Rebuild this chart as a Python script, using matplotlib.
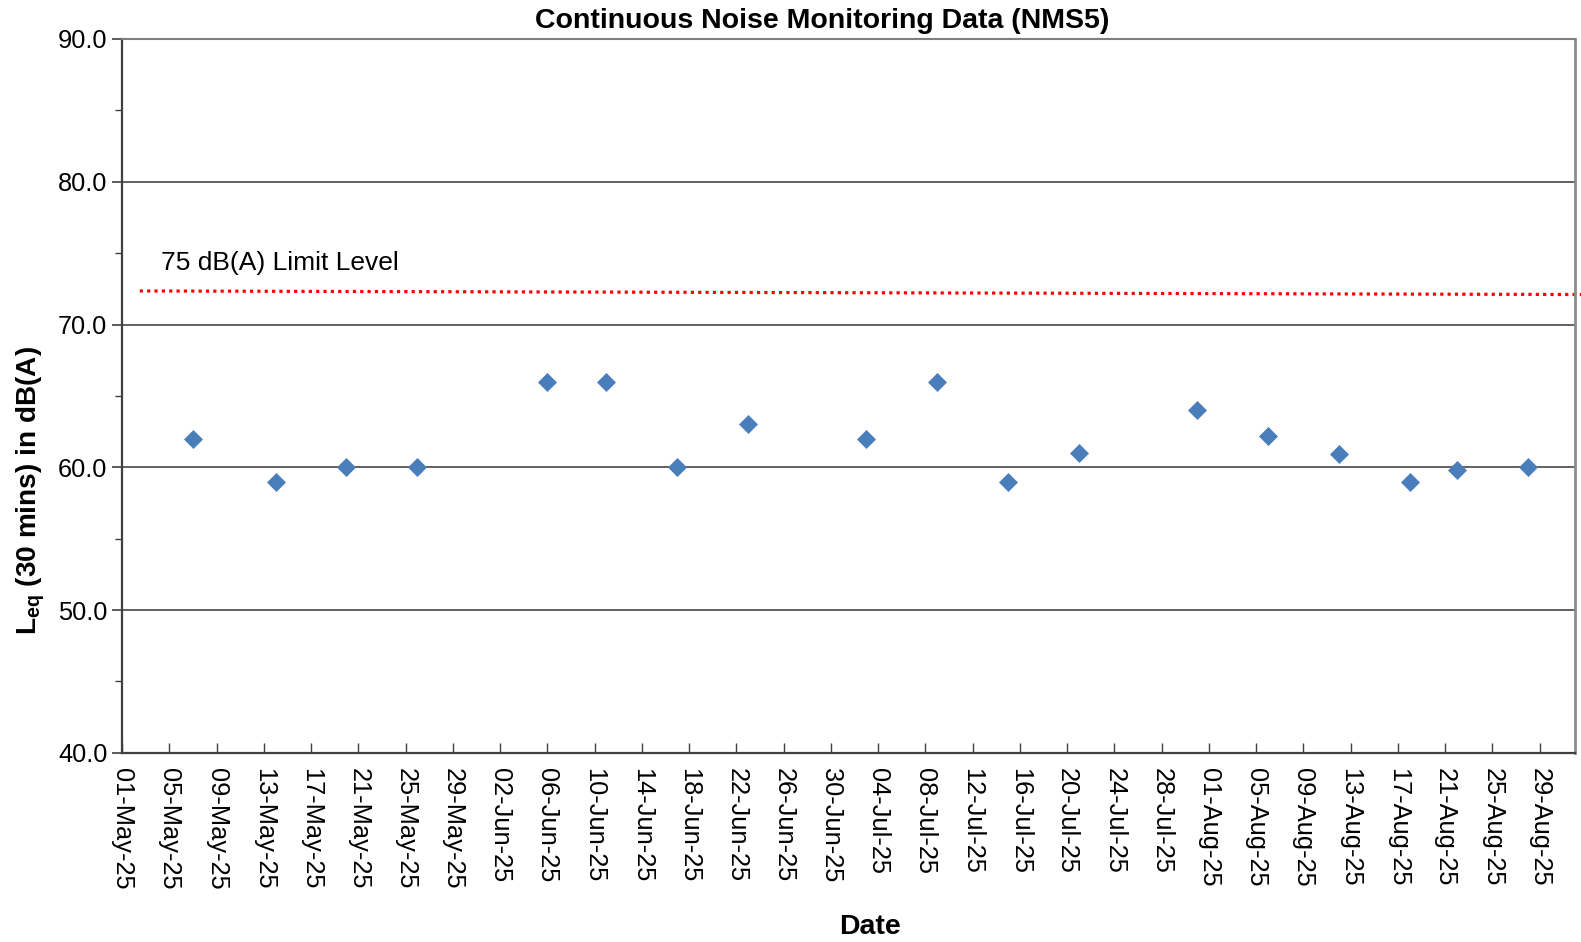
import matplotlib.pyplot as plt
import matplotlib.dates as mdates
import numpy as np
from datetime import date, timedelta

plt.rcParams['font.family'] = ['Liberation Sans', 'DejaVu Sans']
plt.rcParams['mathtext.fontset'] = 'custom'
plt.rcParams['mathtext.rm'] = 'Liberation Sans'
plt.rcParams['mathtext.bf'] = 'Liberation Sans:bold'

# --- data ---
dates = ["2025-05-07", "2025-05-14", "2025-05-20", "2025-05-26", "2025-06-06",
         "2025-06-11", "2025-06-17", "2025-06-23", "2025-07-03", "2025-07-09",
         "2025-07-15", "2025-07-21", "2025-07-31", "2025-08-06", "2025-08-12",
         "2025-08-18", "2025-08-22", "2025-08-28"]
leq = [62.0, 59.0, 60.0, 60.0, 66.0, 66.0, 60.0, 63.0, 62.0, 66.0,
       59.0, 61.0, 64.0, 62.2, 60.9, 59.0, 59.8, 60.0]
limit_dates = ["2025-05-02T12", "2025-09-01T14"]
limit_vals = [72.35, 72.1]
limit_text = "75 dB(A) Limit Level"

x = np.array(dates, dtype='datetime64[D]')
lx = np.array(limit_dates, dtype='datetime64[h]')

fig = plt.figure(figsize=(15.81, 9.42), dpi=100)
ax = fig.add_axes([0.0772, 0.2009, 0.919, 0.7577])

ax.plot(x, leq, linestyle='none', marker='D', ms=9.3, color='#4A7EBB',
        mec='#4A7EBB', mew=0.5, zorder=3)
ax.plot(lx, limit_vals, linestyle=(0, (1, 1.3)), color='red', lw=2.3,
        clip_on=False, zorder=2)
ax.text(np.datetime64("2025-05-04T08", 'h'), 74.3, limit_text, fontsize=19,
        va='center')

start = date(2025, 5, 1)
end = date(2025, 9, 1)
ax.set_xlim(start, end)
ax.set_ylim(40, 90)
ticks = [start + timedelta(days=4 * i) for i in range(31)]
ax.set_xticks(ticks)
ax.xaxis.set_major_formatter(mdates.DateFormatter('%d-%b-%y'))
plt.setp(ax.get_xticklabels(), rotation=270, ha='center', va='top')

ax.set_yticks(np.arange(40, 91, 10))
ax.set_yticks(np.arange(45, 90, 10), minor=True)
ax.yaxis.set_major_formatter(plt.FormatStrFormatter('%.1f'))
ax.tick_params(axis='y', which='major', direction='out', length=7, width=1.2,
               labelsize=18.3, color='#404040')
ax.tick_params(axis='y', which='minor', direction='out', length=5, width=1.0,
               color='#404040')
ax.tick_params(axis='x', direction='in', length=7, width=1.0, labelsize=18.3,
               pad=11, color='#404040')

ax.grid(axis='y', which='major', color='#555555', lw=1.3)
ax.set_axisbelow(True)
for side in ['left', 'bottom']:
    ax.spines[side].set_color('#404040')
    ax.spines[side].set_linewidth(1.6)
ax.spines['right'].set_color('#8c8c8c')
ax.spines['right'].set_linewidth(2)
ax.spines['top'].set_color('#7f7f7f')
ax.spines['top'].set_linewidth(1.5)

fig.text(822 / 1581, 1 - 21 / 942, "Continuous Noise Monitoring Data (NMS5)",
         fontsize=20.5, fontweight='bold', ha='center', va='center')
fig.text(870 / 1581, 1 - 927 / 942, "Date", fontsize=20.5, fontweight='bold',
         ha='center', va='center')
fig.text(31 / 1581, 1 - 491 / 942, r"$\mathbf{L_{eq}}$ (30 mins) in dB(A)",
         fontsize=20.2, fontweight='bold', rotation=90, ha='center', va='center')

fig.savefig('out.png', dpi=100)
